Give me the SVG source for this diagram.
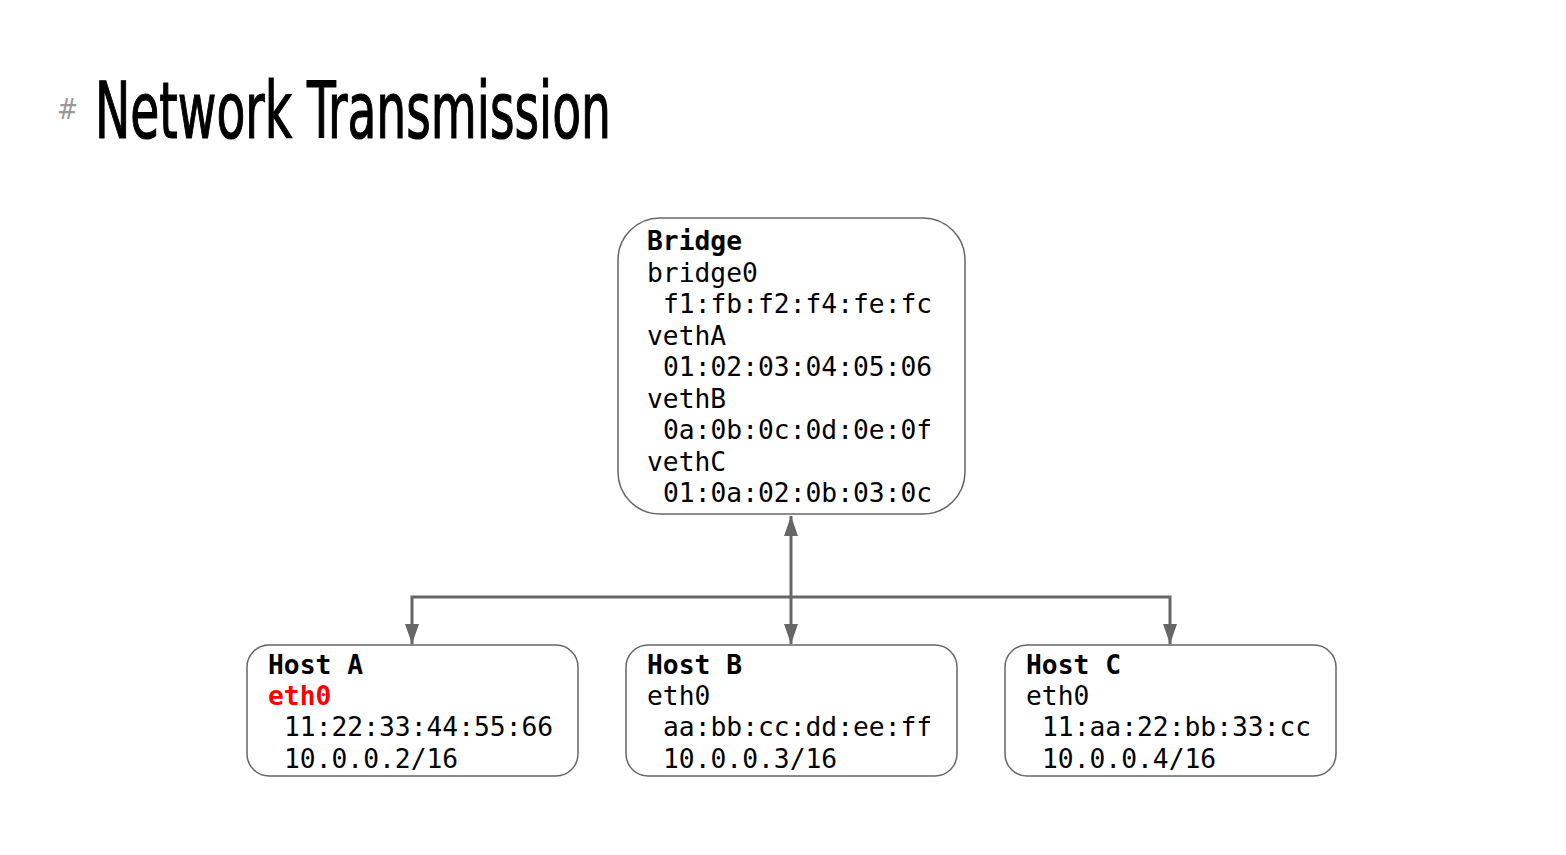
<svg xmlns="http://www.w3.org/2000/svg" width="1566" height="855" viewBox="0 0 1566 855">
<style>
.box{fill:#fff;stroke:#666;stroke-width:1.5}
.t{font-family:"DejaVu Sans Mono","Liberation Mono",monospace;font-size:26.3px;fill:#000}
.b{font-weight:bold}
.red{fill:#f00}
.conn{fill:none;stroke:#666;stroke-width:3}
</style>
<defs>
<marker id="ah" viewBox="0 0 20 14" refX="20" refY="7" markerWidth="20" markerHeight="14" markerUnits="userSpaceOnUse" orient="auto">
<path d="M0,0 L20,7 L0,14 z" fill="#666"/>
</marker>
</defs>
<rect width="1566" height="855" fill="#fff"/>
<g id="title">
<text x="57" y="119" font-family="'Liberation Sans Narrow','DejaVu Sans Condensed',sans-serif" font-size="28" fill="#999">#</text>
<text x="95" y="138" font-family="'Liberation Sans Narrow','DejaVu Sans Condensed',sans-serif" font-size="78" fill="#000" stroke="#000" stroke-width="1.2" textLength="516" lengthAdjust="spacingAndGlyphs">Network Transmission</text>
</g>
<g id="connectors">
<path class="conn" d="M791,598 V516" marker-end="url(#ah)"/>
<path class="conn" d="M791,598 V644" marker-end="url(#ah)"/>
<path class="conn" d="M791,597 H412 V644" marker-end="url(#ah)"/>
<path class="conn" d="M791,597 H1170 V644" marker-end="url(#ah)"/>
</g>
<g id="bridge">
<rect class="box" x="618" y="218" width="347" height="296" rx="42"/>
<text class="t"><tspan class="b" x="647" y="250">Bridge</tspan><tspan x="647" y="282">bridge0</tspan><tspan x="663" y="313">f1:fb:f2:f4:fe:fc</tspan><tspan x="647" y="345">vethA</tspan><tspan x="663" y="376">01:02:03:04:05:06</tspan><tspan x="647" y="408">vethB</tspan><tspan x="663" y="439">0a:0b:0c:0d:0e:0f</tspan><tspan x="647" y="471">vethC</tspan><tspan x="663" y="502">01:0a:02:0b:03:0c</tspan></text>
</g>
<g id="hostA">
<rect class="box" x="247" y="645" width="331" height="131" rx="22"/>
<text class="t"><tspan class="b" x="268" y="674">Host A</tspan><tspan class="b red" x="268" y="705">eth0</tspan><tspan x="284" y="736">11:22:33:44:55:66</tspan><tspan x="284" y="768">10.0.0.2/16</tspan></text>
</g>
<g id="hostB">
<rect class="box" x="626" y="645" width="331" height="131" rx="22"/>
<text class="t"><tspan class="b" x="647" y="674">Host B</tspan><tspan x="647" y="705">eth0</tspan><tspan x="663" y="736">aa:bb:cc:dd:ee:ff</tspan><tspan x="663" y="768">10.0.0.3/16</tspan></text>
</g>
<g id="hostC">
<rect class="box" x="1005" y="645" width="331" height="131" rx="22"/>
<text class="t"><tspan class="b" x="1026" y="674">Host C</tspan><tspan x="1026" y="705">eth0</tspan><tspan x="1042" y="736">11:aa:22:bb:33:cc</tspan><tspan x="1042" y="768">10.0.0.4/16</tspan></text>
</g>
</svg>
